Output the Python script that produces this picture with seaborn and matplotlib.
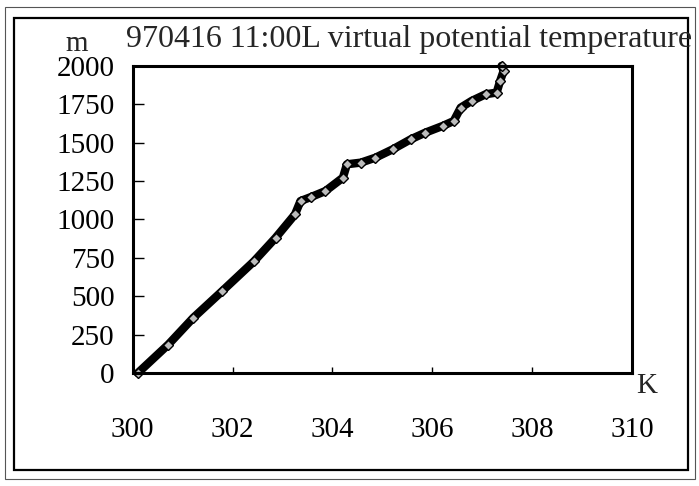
import numpy as np
import pandas as pd
import seaborn as sns
import matplotlib.pyplot as plt
from matplotlib.patches import Rectangle

# virtual potential temperature profile
temp_k = [300.1, 300.71, 301.21, 301.79, 302.43, 302.86, 303.25, 303.36, 303.57,
          303.86, 304.21, 304.29, 304.57, 304.86, 305.21, 305.57, 305.86, 306.21,
          306.43, 306.57, 306.79, 307.07, 307.29, 307.36, 307.43, 307.39]
height_m = [0, 185, 359, 533, 728, 880, 1033, 1120, 1146,
            1185, 1272, 1359, 1370, 1402, 1457, 1522, 1565, 1609,
            1641, 1728, 1772, 1815, 1826, 1902, 1967, 2000]

x_ticks = [300, 302, 304, 306, 308, 310]
y_ticks = [0, 250, 500, 750, 1000, 1250, 1500, 1750, 2000]
title = "970416 11:00L virtual potential temperature"

df = pd.DataFrame({"K": temp_k, "m": height_m})

sns.set_theme(style="white")
plt.rcParams['font.family'] = ['Liberation Serif', 'DejaVu Serif']

fig = plt.figure(figsize=(6.99, 4.86), dpi=100)
ax = fig.add_axes([0.190, 0.2325, 0.714, 0.632])

sns.lineplot(data=df, x="K", y="m", ax=ax, color="black", lw=6, sort=False,
             marker="D", markersize=5, markerfacecolor="#bbbbbb",
             markeredgecolor="black", markeredgewidth=1.0, clip_on=False)

ax.set_xlim(300, 310)
ax.set_ylim(0, 2000)
ax.set_xticks(x_ticks)
ax.set_yticks(y_ticks)
ax.set_xlabel("")
ax.set_ylabel("")
for s in ax.spines.values():
    s.set_color("black")
    s.set_linewidth(2.2)
ax.tick_params(axis="y", direction="in", length=8, width=1, pad=13,
               labelsize=21, colors="black", left=True)
ax.tick_params(axis="x", direction="in", length=4, width=1, pad=32,
               labelsize=21, colors="black", bottom=True)

fig.text(0.585, 0.918, title, ha="center", va="center", fontsize=23)
fig.text(0.110, 0.910, "m", ha="center", va="center", fontsize=21)
fig.text(0.925, 0.206, "K", ha="center", va="center", fontsize=21)

# scanned page borders
fig.patches.append(Rectangle((14 / 699, 1 - 470 / 486), 674 / 699, 452 / 486,
                             transform=fig.transFigure, fill=False,
                             edgecolor="black", lw=1.6))
fig.patches.append(Rectangle((5 / 699, 1 - 479 / 486), 690 / 699, 472 / 486,
                             transform=fig.transFigure, fill=False,
                             edgecolor="#555555", lw=0.8))

fig.savefig("out.png", dpi=100, facecolor="white")
